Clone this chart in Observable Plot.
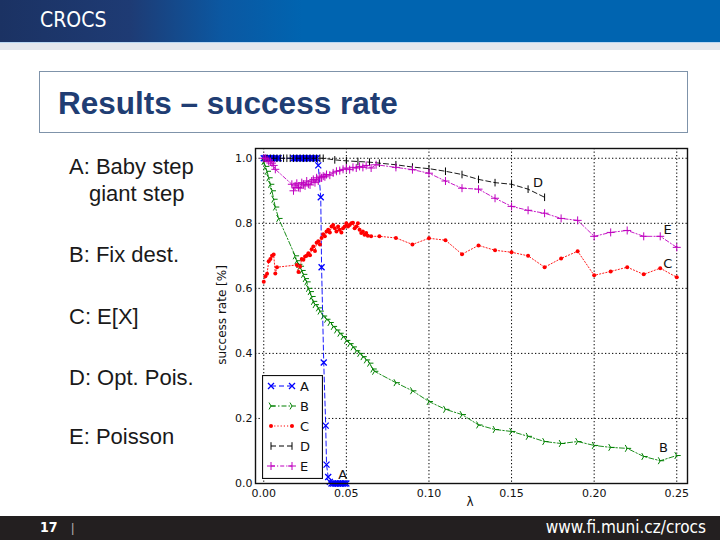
<!DOCTYPE html>
<html><head><meta charset="utf-8">
<script src="https://cdn.jsdelivr.net/npm/d3@7"></script>
<script src="https://cdn.jsdelivr.net/npm/@observablehq/plot@0.6"></script>
<style>
html,body{margin:0;padding:0;background:#fff;}
#slide{position:relative;width:720px;height:540px;overflow:hidden;font-family:"Liberation Sans",Arial,sans-serif;background:#fff;}
#hdr{position:absolute;left:0;top:0;width:720px;height:42px;background:linear-gradient(90deg,#1b3263 0%,#1e3b74 18%,#0b58a2 31%,#0064b0 42%,#0064b0 100%);}
#strip{position:absolute;left:0;top:42px;width:720px;height:8px;background:#e4e7ed;border-top:1px solid #b9d6f2;box-sizing:border-box;}
#logo{position:absolute;left:40px;top:8px;color:#fff;font:21px "DejaVu Sans Condensed","Liberation Sans Narrow",sans-serif;}
#titlebox{position:absolute;left:39px;top:71px;width:649px;height:62px;border:1px solid #7f93aa;box-sizing:border-box;}
#title{position:absolute;left:58px;top:85px;font:bold 31.5px "Liberation Sans",Arial,sans-serif;color:#203d73;white-space:nowrap;}
.lt{position:absolute;font:22px "Liberation Sans",Arial,sans-serif;color:#1a1a1a;white-space:nowrap;}
#footer{position:absolute;left:0;top:516px;width:720px;height:24px;background:#231f20;}
#pg{position:absolute;left:40px;top:519px;color:#fff;font:bold 14px "Liberation Sans Narrow","DejaVu Sans Condensed",sans-serif;}
#bar{position:absolute;left:71px;top:520px;color:#aaa;font:13px "Liberation Sans",sans-serif;}
#url{position:absolute;right:14px;top:517px;color:#fff;font:17px "Liberation Sans Narrow","DejaVu Sans Condensed",sans-serif;}
#chart{position:absolute;left:210px;top:140px;}
#ylab{position:absolute;left:222px;top:315px;transform:translate(-50%,-50%) rotate(-90deg);font:12px "DejaVu Sans",sans-serif;color:#111;white-space:nowrap;}
#xlab{position:absolute;left:470px;top:502px;transform:translate(-50%,-50%);font:12px "DejaVu Sans",sans-serif;color:#111;}
#legend{position:absolute;left:262px;top:375px;}
</style>
</head><body>
<div id="slide">
  <div id="hdr"></div><div id="strip"></div>
  <div id="logo">CROCS</div>
  <div id="titlebox"></div>
  <div id="title">Results – success rate</div>
  <div class="lt" style="left:69px;top:154px">A: Baby step</div>
  <div class="lt" style="left:89px;top:181px">giant step</div>
  <div class="lt" style="left:69px;top:242px">B: Fix dest.</div>
  <div class="lt" style="left:69px;top:304px">C: E[X]</div>
  <div class="lt" style="left:69px;top:365px">D: Opt. Pois.</div>
  <div class="lt" style="left:69px;top:424px">E: Poisson</div>
  <div id="chart"></div>
  <div id="ylab">success rate [%]</div>
  <div id="xlab">λ</div>
  <div id="legend"></div>
  <div id="footer"></div>
  <div id="pg">17</div><div id="bar">|</div>
  <div id="url">www.fi.muni.cz/crocs</div>
</div>
<script>
// ---- data ----
const seriesNames = ["A","B","C","D","E"];
const xTicks = [0,0.05,0.10,0.15,0.20,0.25];
const yTicks = [0,0.2,0.4,0.6,0.8,1.0];

const aX = [0,0.001,0.002,0.003,0.004,0.005,0.006,0.007,0.008,0.009,
  0.018,0.019,0.020,0.021,0.022,0.023,0.024,0.025,0.026,0.027,0.028,0.029,0.030,0.031,0.032,
  0.033,0.0345,0.035,0.0363,0.0375,0.038,0.039,
  0.040,0.041,0.042,0.043,0.044,0.045,0.046,0.047,0.048,0.049,0.050];
const aY = [1,1,1,1,1,1,1,1,1,1,
  1,1,1,1,1,1,1,1,1,1,1,1,1,1,1,
  0.978,0.88,0.665,0.372,0.178,0.058,0.02,
  0.005,0,0,0,0,0,0,0,0,0,0];

const bX = [0,0.001,0.002,0.003,0.004,0.005,0.006,0.007,0.009,
  0.019,0.020,0.021,0.022,0.023,0.024,0.025,0.026,0.027,0.028,0.029,0.030,0.031,
  0.033,0.034,
  0.036,0.038,0.040,0.042,0.044,0.046,0.048,0.050,0.052,0.054,0.056,0.058,0.060,0.062,0.064,0.066,
  0.067,
  0.08,0.09,0.10,0.11,0.12,0.13,0.14,0.15,0.16,0.17,0.18,0.19,0.20,0.21,0.22,0.23,0.24,0.25];
const bY = [0.99,0.975,0.96,0.94,0.92,0.90,0.874,0.85,0.815,
  0.70,0.685,0.674,0.668,0.655,0.643,0.63,0.62,0.60,0.59,0.575,0.56,0.55,
  0.54,0.53,
  0.515,0.505,0.495,0.483,0.472,0.462,0.452,0.44,0.43,0.42,0.408,0.40,0.39,0.38,0.37,0.352,
  0.345,
  0.31,0.285,0.252,0.228,0.212,0.18,0.166,0.16,0.145,0.129,0.123,0.129,0.117,0.111,0.108,0.083,0.07,0.086];

const cX = [0,0.001,0.002,0.003,0.004,0.005,0.006,0.007,0.008,
  0.020,0.021,0.022,0.023,0.024,0.025,0.026,0.027,0.028,0.029,0.030,0.031,0.032,0.033,0.034,0.035,
  0.036,0.037,0.038,0.039,0.040,0.041,0.042,0.043,0.044,0.045,0.046,0.047,0.048,0.049,0.050,
  0.051,0.052,0.053,0.054,0.055,0.056,0.057,0.058,0.059,0.060,0.061,0.062,0.063,
  0.065,
  0.07,0.08,0.09,0.10,0.11,0.12,0.13,0.14,0.15,0.16,0.17,0.18,0.19,0.20,0.21,0.22,0.23,0.24,0.25];
const cY = [0.620,0.637,0.645,0.683,0.690,0.700,0.704,0.646,0.665,
  0.672,0.650,0.667,0.690,0.688,0.698,0.700,0.708,0.702,0.720,0.729,0.715,0.740,0.745,0.735,0.755,
  0.766,0.760,0.775,0.780,0.772,0.790,0.795,0.785,0.775,0.790,0.780,0.772,0.785,0.790,0.800,
  0.790,0.795,0.800,0.802,0.785,0.790,0.800,0.780,0.770,0.775,0.765,0.770,0.762,
  0.760,
  0.760,0.755,0.735,0.754,0.748,0.705,0.732,0.717,0.711,0.700,0.665,0.692,0.714,0.640,0.652,0.665,0.643,0.662,0.634];

const dX = [0,0.002,0.004,0.006,0.008,0.010,0.012,0.014,0.016,0.018,0.020,0.022,0.024,0.026,0.028,0.030,0.032,0.034,0.036,
  0.043,0.050,0.057,0.064,
  0.07,0.08,0.09,0.10,0.11,0.12,0.13,0.14,0.15,0.16,0.17];
const dY = [1,1,1,1,1,1,1,1,1,1,1,1,1,1,1,1,1,1,1,
  0.995,0.992,0.99,0.988,
  0.985,0.98,0.973,0.968,0.96,0.95,0.935,0.925,0.92,0.905,0.88];

const eX = [0,0.001,0.002,0.003,0.004,0.005,0.006,0.007,
  0.017,0.018,0.019,0.020,0.021,0.022,0.023,0.024,0.025,0.026,0.027,0.028,0.029,0.030,0.031,0.032,0.033,0.034,0.035,0.036,0.037,0.038,
  0.040,0.042,0.044,0.046,0.048,0.050,0.052,0.054,0.056,0.058,0.060,0.062,
  0.065,0.068,
  0.08,0.09,0.10,0.11,0.12,0.13,0.14,0.15,0.16,0.17,0.18,0.19,0.20,0.21,0.22,0.23,0.24,0.25];
const eY = [1,1,0.995,0.99,0.99,0.985,0.978,0.966,
  0.92,0.90,0.915,0.923,0.91,0.908,0.925,0.92,0.915,0.93,0.92,0.918,0.93,0.935,0.925,0.94,0.93,0.945,0.94,0.945,0.943,0.95,
  0.948,0.955,0.96,0.962,0.966,0.97,0.965,0.972,0.97,0.975,0.972,0.978,
  0.97,0.98,
  0.972,0.965,0.954,0.93,0.908,0.905,0.877,0.852,0.84,0.831,0.815,0.809,0.76,0.772,0.778,0.76,0.76,0.726];

// end-of-curve annotation labels
const annText = ["A","B","C","D","E"];
const annX = [0.0478,0.242,0.2445,0.166,0.2445];
const annY = [0.028,0.111,0.674,0.923,0.78];

// ---- styling ----
const triRight = {draw(ctx, size){const L=Math.sqrt(size/Math.PI)*1.1;
  ctx.moveTo(0,0);ctx.lineTo(L,0);
  ctx.moveTo(0,0);ctx.lineTo(-L/2,-L*0.866);
  ctx.moveTo(0,0);ctx.lineTo(-L/2,L*0.866);}};
const vTick = {draw(ctx, size){const L=Math.sqrt(size/Math.PI);
  ctx.moveTo(0,-L);ctx.lineTo(0,L);}};
const plusSym = {draw(ctx, size){const L=Math.sqrt(size/Math.PI);
  ctx.moveTo(-L,0);ctx.lineTo(L,0);ctx.moveTo(0,-L);ctx.lineTo(0,L);}};
const timesSym = {draw(ctx, size){const L=Math.sqrt(size/Math.PI)*0.75;
  ctx.moveTo(-L,-L);ctx.lineTo(L,L);ctx.moveTo(-L,L);ctx.lineTo(L,-L);}};
const dotSym = {draw(ctx,size){const r=Math.sqrt(size/Math.PI);ctx.moveTo(r,0);ctx.arc(0,0,r,0,2*Math.PI);}};

const styles = {
  A:{xs:aX,ys:aY,color:"#0000ff",dash:"5,3",sym:timesSym,r:4,fill:"none",sw:1.3},
  B:{xs:bX,ys:bY,color:"#008000",dash:"5,2,1.5,2",sym:triRight,r:3.6,fill:"none",sw:1},
  C:{xs:cX,ys:cY,color:"#ff0000",dash:"1.2,2",sym:dotSym,r:2,fill:"#ff0000",sw:0},
  D:{xs:dX,ys:dY,color:"#000000",dash:"5,3",sym:vTick,r:3.8,fill:"none",sw:1},
  E:{xs:eX,ys:eY,color:"#bf00bf",dash:"4,2,1.2,2",sym:plusSym,r:4,fill:"none",sw:1}
};

const marks = [
  Plot.ruleX(xTicks,{stroke:"#000",strokeDasharray:"1.3,2.2",strokeWidth:1}),
  Plot.ruleY(yTicks,{stroke:"#000",strokeDasharray:"1.3,2.2",strokeWidth:1})
];
for (const k of seriesNames) {
  const s = styles[k];
  const rows = s.xs.map((x,i)=>({x, y:s.ys[i]}));
  marks.push(Plot.line(rows,{x:"x",y:"y",stroke:s.color,strokeWidth:0.9,strokeDasharray:s.dash}));
  marks.push(Plot.dot(rows,{x:"x",y:"y",symbol:()=>s.sym,r:s.r,stroke:s.sw?s.color:"none",strokeWidth:s.sw,fill:s.fill}));
}
const ann = annText.map((t,i)=>({t,x:annX[i],y:annY[i]}));
marks.push(Plot.text(ann,{x:"x",y:"y",text:"t",fontSize:13,fill:"#111",fontFamily:"DejaVu Sans"}));
marks.push(Plot.frame({stroke:"#111",strokeWidth:1.4}));

const plot = Plot.plot({
  width:482, height:375,
  marginLeft:45, marginRight:5, marginTop:8, marginBottom:32,
  style:{fontSize:"11px",fontFamily:"DejaVu Sans, sans-serif",color:"#111",background:"#fff",overflow:"visible"},
  x:{domain:[-0.005,0.2565],ticks:xTicks,tickFormat:d3.format(".2f"),tickSize:0,tickPadding:6,label:null},
  y:{domain:[0,1.03],ticks:yTicks,tickFormat:d3.format(".1f"),tickSize:0,tickPadding:3,label:null},
  symbol:{type:"identity"},
  marks
});
document.getElementById("chart").appendChild(plot);

// ---- legend ----
const lg = d3.select("#legend").append("svg").attr("width",61).attr("height",104);
lg.append("rect").attr("x",0.5).attr("y",0.5).attr("width",60).attr("height",103).attr("fill","#fff").attr("stroke","#111").attr("stroke-width",1.2);
seriesNames.forEach((k,i)=>{
  const s=styles[k], y=11+i*20;
  lg.append("line").attr("x1",9).attr("x2",30).attr("y1",y).attr("y2",y).attr("stroke",s.color).attr("stroke-dasharray",s.dash);
  [9,30].forEach(x=>{
    lg.append("path").attr("transform",`translate(${x},${y})`)
      .attr("d",d3.symbol(s.sym,Math.PI*s.r*s.r)())
      .attr("fill",s.fill).attr("stroke",s.sw?s.color:"none").attr("stroke-width",s.sw);
  });
  lg.append("text").attr("x",38).attr("y",y+5).attr("font-family","DejaVu Sans").attr("font-size",13).attr("fill","#111").text(k);
});
</script>
</body></html>
